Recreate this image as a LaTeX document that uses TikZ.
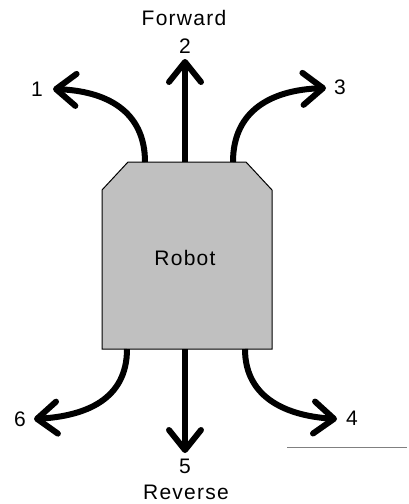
\documentclass[tikz,border=0pt]{standalone}
\usepackage{fontspec}
\setmainfont{Liberation Sans}[LetterSpace=6]
\usetikzlibrary{arrows.meta}
\definecolor{robotgray}{RGB}{192,192,192}
\tikzset{
  move/.style={line width=6pt,-{Straight Barb[length=20pt,width=32pt,line width=6pt,round]}},
  lbl/.style={font=\fontsize{21}{24}\selectfont,inner sep=0pt},
  body/.style={draw=black,line width=1pt,fill=robotgray}
}
\begin{document}
\begin{tikzpicture}[x=1pt,y=-1pt]
\useasboundingbox (0,0) rectangle (409,504);

% robot body with chamfered front corners
\draw[body] (128,162) -- (246,162) -- (272,190) -- (272,349)
  -- (102,349) -- (102,190) -- cycle;
\node[lbl] (robot) at (185,258) {Robot};

% start points on the body
\coordinate (tl) at (145,162);
\coordinate (tc) at (185,162);
\coordinate (tr) at (233,162);
\coordinate (bl) at (127,349);
\coordinate (bc) at (185,349);
\coordinate (br) at (245,349);

% arrow tips
\coordinate (t1) at (53,89);
\coordinate (t2) at (185,59);
\coordinate (t3) at (326,88);
\coordinate (t4) at (337,419);
\coordinate (t5) at (185,453);
\coordinate (t6) at (34,419);

% labels
\node[lbl] (l1) at (37,89) {1};
\node[lbl] (l2) at (185,46) {2};
\node[lbl] (l3) at (340,87) {3};
\node[lbl] (l4) at (352,418) {4};
\node[lbl] (l5) at (185,466) {5};
\node[lbl] (l6) at (20,419) {6};
\node[lbl] (fwd) at (184,18) {Forward};
\node[lbl] (rev) at (186,492) {Reverse};

% movement arrows
\draw[move] (tc) -- (t2);
\draw[move] (tl) .. controls (145,110) and (105,91) .. (t1);
\draw[move] (tr) .. controls (233,110) and (272,90) .. (t3);
\draw[move] (bc) -- (t5);
\draw[move] (bl) .. controls (127,400) and (85,416) .. (t6);
\draw[move] (br) .. controls (245,400) and (290,416) .. (t4);

% stray rule at lower right
\coordinate (ra) at (287,447);
\coordinate (rb) at (407,447);
\draw[gray,line width=0.8pt] (ra) -- (rb);
\end{tikzpicture}
\end{document}
